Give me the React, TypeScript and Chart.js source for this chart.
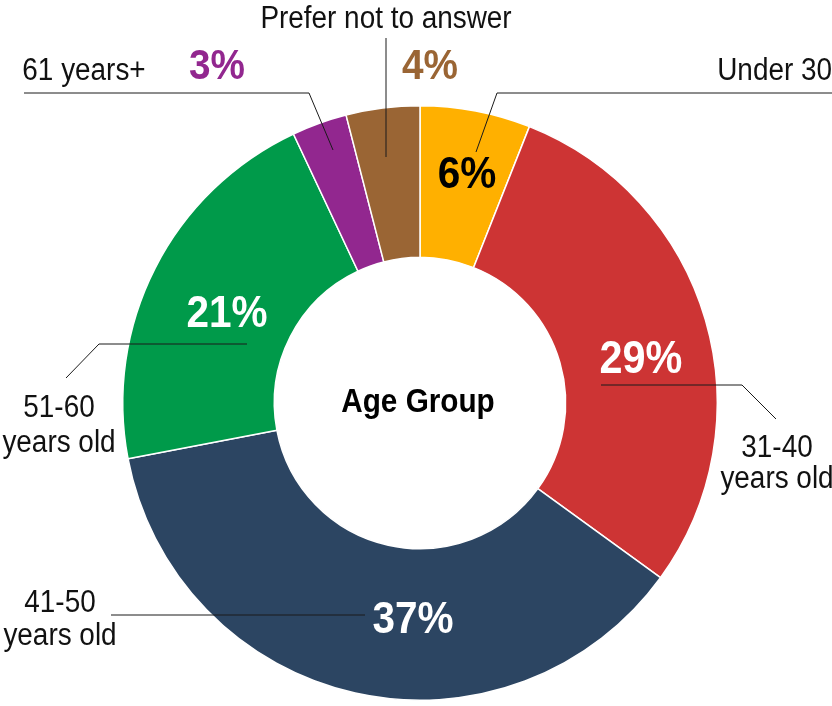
import React, { useEffect, useRef } from "react";
import { Chart, registerables } from "chart.js";

Chart.register(...registerables);

const categories = ["Under 30", "31-40 years old", "41-50 years old", "51-60 years old", "61 years+", "Prefer not to answer"];
const values = [6, 29, 37, 21, 3, 4];
const colors = ["#FFB000", "#CD3434", "#2C4562", "#009A4A", "#92278F", "#9A6534"];
const centerTitle = "Age Group";

const FONT = "'Liberation Sans', Arial, sans-serif";
const SX = 0.9; // horizontal condensing to mimic a narrow face

// percent label placement relative to chart centre (dx, baseline dy), colour, size
const pctLayout = [
  { dx: 47, dy: -215, color: "#000000", size: 45 },
  { dx: 221, dy: -30, color: "#ffffff", size: 46 },
  { dx: -7, dy: 230, color: "#ffffff", size: 45 },
  { dx: -193, dy: -76, color: "#ffffff", size: 45 },
  { dx: -203, dy: -324, color: "#92278F", size: 43 },
  { dx: 10, dy: -324, color: "#9A6534", size: 43 },
];

// category text placement: lines, anchor (dx, baseline dy), align
const catLayout = [
  { lines: ["Under 30"], dx: 412, dy: -323, align: "right", gap: 0 },
  { lines: ["31-40", "years old"], dx: 357, dy: 54, align: "center", gap: 31 },
  { lines: ["41-50", "years old"], dx: -360, dy: 209, align: "center", gap: 33 },
  { lines: ["51-60", "years old"], dx: -361, dy: 14, align: "center", gap: 35 },
  { lines: ["61 years+"], dx: -336, dy: -323, align: "center", gap: 0 },
  { lines: ["Prefer not to answer"], dx: -34, dy: -375, align: "center", gap: 0 },
];

// leader polylines relative to centre
const leaders = [
  [[56, -251], [77, -310], [412, -310]],
  [[181, -18], [322, -18], [356, 16]],
  [[-55, 212], [-309, 212]],
  [[-173, -59], [-321, -59], [-354, -25]],
  [[-87, -253], [-111, -310], [-396, -310]],
  [[-34, -246], [-34, -365]],
];

function drawText(ctx: CanvasRenderingContext2D, t: string, x: number, y: number, align: CanvasTextAlign) {
  ctx.save();
  ctx.translate(x, y);
  ctx.scale(SX, 1);
  ctx.textAlign = align;
  ctx.fillText(t, 0, 0);
  ctx.restore();
}

const labelPlugin = {
  id: "ageLabels",
  afterDatasetsDraw(chart: any) {
    const ctx = chart.ctx as CanvasRenderingContext2D;
    const arc = chart.getDatasetMeta(0).data[0] as any;
    const cx = Math.round(arc.x);
    const cy = Math.round(arc.y);
    ctx.save();
    ctx.strokeStyle = "#1a1a1a";
    ctx.lineWidth = 1;
    leaders.forEach((pts) => {
      ctx.beginPath();
      pts.forEach((p, i) => {
        const x = cx + p[0];
        const y = cy + p[1];
        if (i === 0) ctx.moveTo(x, y);
        else ctx.lineTo(x, y);
      });
      ctx.stroke();
    });
    ctx.textBaseline = "alphabetic";
    values.forEach((v, i) => {
      const l = pctLayout[i];
      ctx.font = `bold ${l.size}px ${FONT}`;
      ctx.fillStyle = l.color;
      drawText(ctx, `${v}%`, cx + l.dx, cy + l.dy, "center");
    });
    ctx.font = `31px ${FONT}`;
    ctx.fillStyle = "#111111";
    catLayout.forEach((c) => {
      c.lines.forEach((t, j) => {
        drawText(ctx, t, cx + c.dx, cy + c.dy + j * c.gap, c.align as CanvasTextAlign);
      });
    });
    ctx.font = `bold 33px ${FONT}`;
    ctx.fillStyle = "#000000";
    drawText(ctx, centerTitle, cx - 2, cy + 9, "center");
    ctx.restore();
  },
};

export default function App() {
  const ref = useRef<HTMLCanvasElement | null>(null);
  useEffect(() => {
    if (!ref.current) return;
    const chart = new Chart(ref.current, {
      type: "doughnut",
      data: {
        labels: categories,
        datasets: [
          {
            data: values,
            backgroundColor: colors,
            borderColor: "#ffffff",
            borderWidth: 1.5,
          },
        ],
      },
      options: {
        responsive: false,
        animation: false,
        cutout: "49%",
        layout: { padding: { left: 122, right: 114, top: 105, bottom: 5 } },
        plugins: {
          legend: { display: false },
          tooltip: { enabled: false },
          title: { display: false },
        },
      },
      plugins: [labelPlugin],
    });
    return () => chart.destroy();
  }, []);
  return (
    <div style={{ position: "fixed", left: 0, top: 0, width: 832, height: 706, background: "#ffffff" }}>
      <canvas ref={ref} width={832} height={706} style={{ display: "block" }} />
    </div>
  );
}
